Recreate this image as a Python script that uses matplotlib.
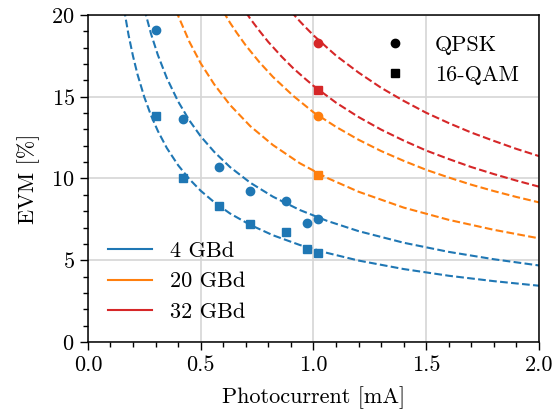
import matplotlib
matplotlib.use("Agg")
import matplotlib.pyplot as plt
from matplotlib.lines import Line2D

plt.rcParams['font.family'] = 'serif'
plt.rcParams['font.serif'] = ['cmr10']
plt.rcParams['mathtext.fontset'] = 'cm'
plt.rcParams['axes.formatter.use_mathtext'] = True
plt.rcParams['font.size'] = 16

# measured points (photocurrent in mA, EVM in %)
x_4g = [0.30, 0.42, 0.58, 0.72, 0.88, 0.97, 1.02]
evm_4g_qpsk = [19.1, 13.62, 10.72, 9.24, 8.62, 7.30, 7.52]
evm_4g_16qam = [13.82, 10.01, 8.30, 7.22, 6.73, 5.68, 5.42]

x_hi = [1.02]
evm_20g_qpsk = [13.82]
evm_20g_16qam = [10.21]
evm_32g_qpsk = [18.31]
evm_32g_16qam = [15.41]

# fitted curves
fit_x_4g_qpsk = [0.25, 0.28, 0.31, 0.35, 0.40, 0.45, 0.50, 0.56, 0.63, 0.72, 0.82, 0.94, 1.06, 1.2, 1.4, 1.6, 1.8, 2.0]
fit_4g_qpsk = [20.38, 18.84, 17.56, 16.14, 14.71, 13.55, 12.58, 11.63, 10.70, 9.74, 8.89, 8.07, 7.41, 6.78, 6.07, 5.51, 5.06, 4.68]

fit_x_4g_16qam = [0.16, 0.18, 0.20, 0.22, 0.25, 0.28, 0.31, 0.35, 0.40, 0.45, 0.50, 0.56, 0.63, 0.72, 0.82, 0.94, 1.06, 1.2, 1.4, 1.6, 1.8, 2.0]
fit_4g_16qam = [20.38, 18.79, 17.48, 16.36, 14.98, 13.85, 12.91, 11.86, 10.81, 9.96, 9.25, 8.55, 7.86, 7.16, 6.53, 5.93, 5.45, 4.98, 4.46, 4.05, 3.72, 3.44]

fit_x_20g_16qam = [0.39, 0.45, 0.50, 0.56, 0.63, 0.72, 0.82, 0.94, 1.06, 1.2, 1.4, 1.6, 1.8, 2.0]
fit_20g_16qam = [20.28, 18.36, 17.05, 15.76, 14.50, 13.20, 12.05, 10.93, 10.04, 9.19, 8.22, 7.47, 6.86, 6.34]

fit_x_20g_qpsk = [0.60, 0.63, 0.66, 0.70, 0.76, 0.82, 0.91, 1.0, 1.1, 1.2, 1.3, 1.4, 1.5, 1.6, 1.7, 1.8, 1.9, 2.0]
fit_20g_qpsk = [20.22, 19.53, 18.91, 18.14, 17.12, 16.22, 15.06, 14.05, 13.16, 12.37, 11.68, 11.08, 10.53, 10.06, 9.62, 9.23, 8.87, 8.54]

fit_x_32g_16qam = [0.70, 0.72, 0.76, 0.80, 0.86, 0.91, 0.96, 1.0, 1.1, 1.2, 1.3, 1.4, 1.5, 1.6, 1.7, 1.8, 1.9, 2.0]
fit_32g_16qam = [20.18, 19.77, 19.04, 18.35, 17.44, 16.75, 16.14, 15.67, 14.64, 13.76, 12.99, 12.32, 11.71, 11.19, 10.70, 10.27, 9.87, 9.50]

fit_x_32g_qpsk = [0.90, 0.94, 0.96, 1.0, 1.06, 1.1, 1.2, 1.3, 1.4, 1.5, 1.6, 1.7, 1.8, 1.9, 2.0]
fit_32g_qpsk = [20.22, 19.61, 19.32, 18.76, 18.01, 17.52, 16.48, 15.55, 14.75, 14.02, 13.39, 12.81, 12.30, 11.81, 11.37]

blue = '#1f77b4'
orange = '#ff7f0e'
red = '#d62728'

fig = plt.figure(figsize=(5.6, 4.12), dpi=100)
ax = fig.add_axes([0.157, 0.170, 0.8055, 0.7935])

ax.plot(fit_x_4g_qpsk, fit_4g_qpsk, '--', color=blue, lw=1.5)
ax.plot(fit_x_4g_16qam, fit_4g_16qam, '--', color=blue, lw=1.5)
ax.plot(fit_x_20g_qpsk, fit_20g_qpsk, '--', color=orange, lw=1.5)
ax.plot(fit_x_20g_16qam, fit_20g_16qam, '--', color=orange, lw=1.5)
ax.plot(fit_x_32g_qpsk, fit_32g_qpsk, '--', color=red, lw=1.5)
ax.plot(fit_x_32g_16qam, fit_32g_16qam, '--', color=red, lw=1.5)

ax.plot(x_4g, evm_4g_qpsk, 'o', color=blue, ms=6)
ax.plot(x_4g, evm_4g_16qam, 's', color=blue, ms=6.3)
ax.plot(x_hi, evm_20g_qpsk, 'o', color=orange, ms=6)
ax.plot(x_hi, evm_20g_16qam, 's', color=orange, ms=6.3)
ax.plot(x_hi, evm_32g_qpsk, 'o', color=red, ms=6)
ax.plot(x_hi, evm_32g_16qam, 's', color=red, ms=6.3)

ax.set_xlim(0, 2)
ax.set_ylim(0, 20)
ax.set_xticks([0, 0.5, 1.0, 1.5, 2.0])
ax.set_yticks([0, 5, 10, 15, 20])
ax.set_xticks([i / 10 for i in range(21)], minor=True)
ax.set_yticks(list(range(21)), minor=True)
ax.set_xticklabels(['0.0', '0.5', '1.0', '1.5', '2.0'])
ax.tick_params(which='major', direction='out', length=6, width=1)
ax.tick_params(which='minor', direction='out', length=3.5, width=1)
ax.grid(True, which='major', color='#d5d5d5', lw=1.2)
ax.set_axisbelow(True)
for s in ax.spines.values():
    s.set_linewidth(1.1)

ax.set_xlabel('Photocurrent [mA]', labelpad=8)
ax.set_ylabel('EVM [%]', labelpad=8)

mod_handles = [Line2D([], [], marker='o', ls='none', color='k', ms=6),
               Line2D([], [], marker='s', ls='none', color='k', ms=6)]
leg1 = ax.legend(mod_handles, ['QPSK', '16-QAM'], loc='upper right', frameon=False)
ax.add_artist(leg1)

rate_handles = [Line2D([], [], color=blue, lw=1.5),
                Line2D([], [], color=orange, lw=1.5),
                Line2D([], [], color=red, lw=1.5)]
ax.legend(rate_handles, ['4 GBd', '20 GBd', '32 GBd'], loc='lower left', frameon=False)

fig.savefig('out.png', dpi=100)
